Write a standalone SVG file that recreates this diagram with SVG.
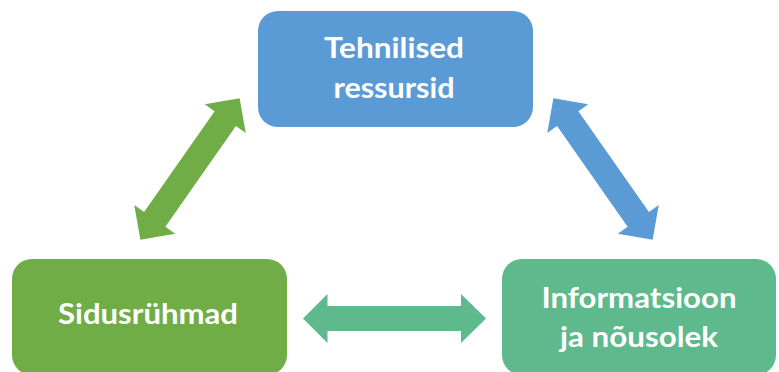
<svg xmlns="http://www.w3.org/2000/svg" width="779" height="372" viewBox="0 0 779 372">
  <style>
    .label { font-family: Lato, "Open Sans", "Liberation Sans", sans-serif; font-weight: 700; font-size: 29px; fill: #ffffff; text-anchor: middle; }
    .blue { fill: #5B9BD5; }
    .green { fill: #70AD47; }
    .teal { fill: #5EB98C; }
  </style>
  <defs>
    <!-- double-headed block arrow, centred on the origin, pointing along x -->
    <path id="dbl-arrow" d="M -86.5 0 L -61.5 -25 L -61.5 -13 L 61.5 -13 L 61.5 -25 L 86.5 0 L 61.5 25 L 61.5 13 L -61.5 13 L -61.5 25 Z"/>
  </defs>
  <rect width="779" height="372" fill="#ffffff"/>

  <g id="connectors">
    <use href="#dbl-arrow" class="green" transform="translate(190 169) rotate(-55)"/>
    <use href="#dbl-arrow" class="blue" transform="translate(603 169) rotate(55)"/>
    <path class="teal" d="M 303 318.5 L 327.5 294 L 327.5 306 L 461 306 L 461 294 L 486 318.5 L 461 343 L 461 331 L 327.5 331 L 327.5 343 Z"/>
  </g>

  <g id="node-tehnilised">
    <rect class="blue" x="258" y="11" width="275" height="116" rx="20"/>
    <text class="label" x="394" y="58" textLength="140" lengthAdjust="spacingAndGlyphs">Tehnilised</text>
    <text class="label" x="394" y="98" textLength="121" lengthAdjust="spacingAndGlyphs">ressursid</text>
  </g>

  <g id="node-sidusryhmad">
    <rect class="green" x="12" y="259" width="275" height="116" rx="20"/>
    <text class="label" x="148" y="324" textLength="180" lengthAdjust="spacingAndGlyphs">Sidusrühmad</text>
  </g>

  <g id="node-informatsioon">
    <rect class="teal" x="502" y="259" width="274" height="116" rx="20"/>
    <text class="label" x="639" y="308" textLength="195" lengthAdjust="spacingAndGlyphs">Informatsioon</text>
    <text class="label" x="639" y="347" textLength="158" lengthAdjust="spacingAndGlyphs">ja nõusolek</text>
  </g>
</svg>
